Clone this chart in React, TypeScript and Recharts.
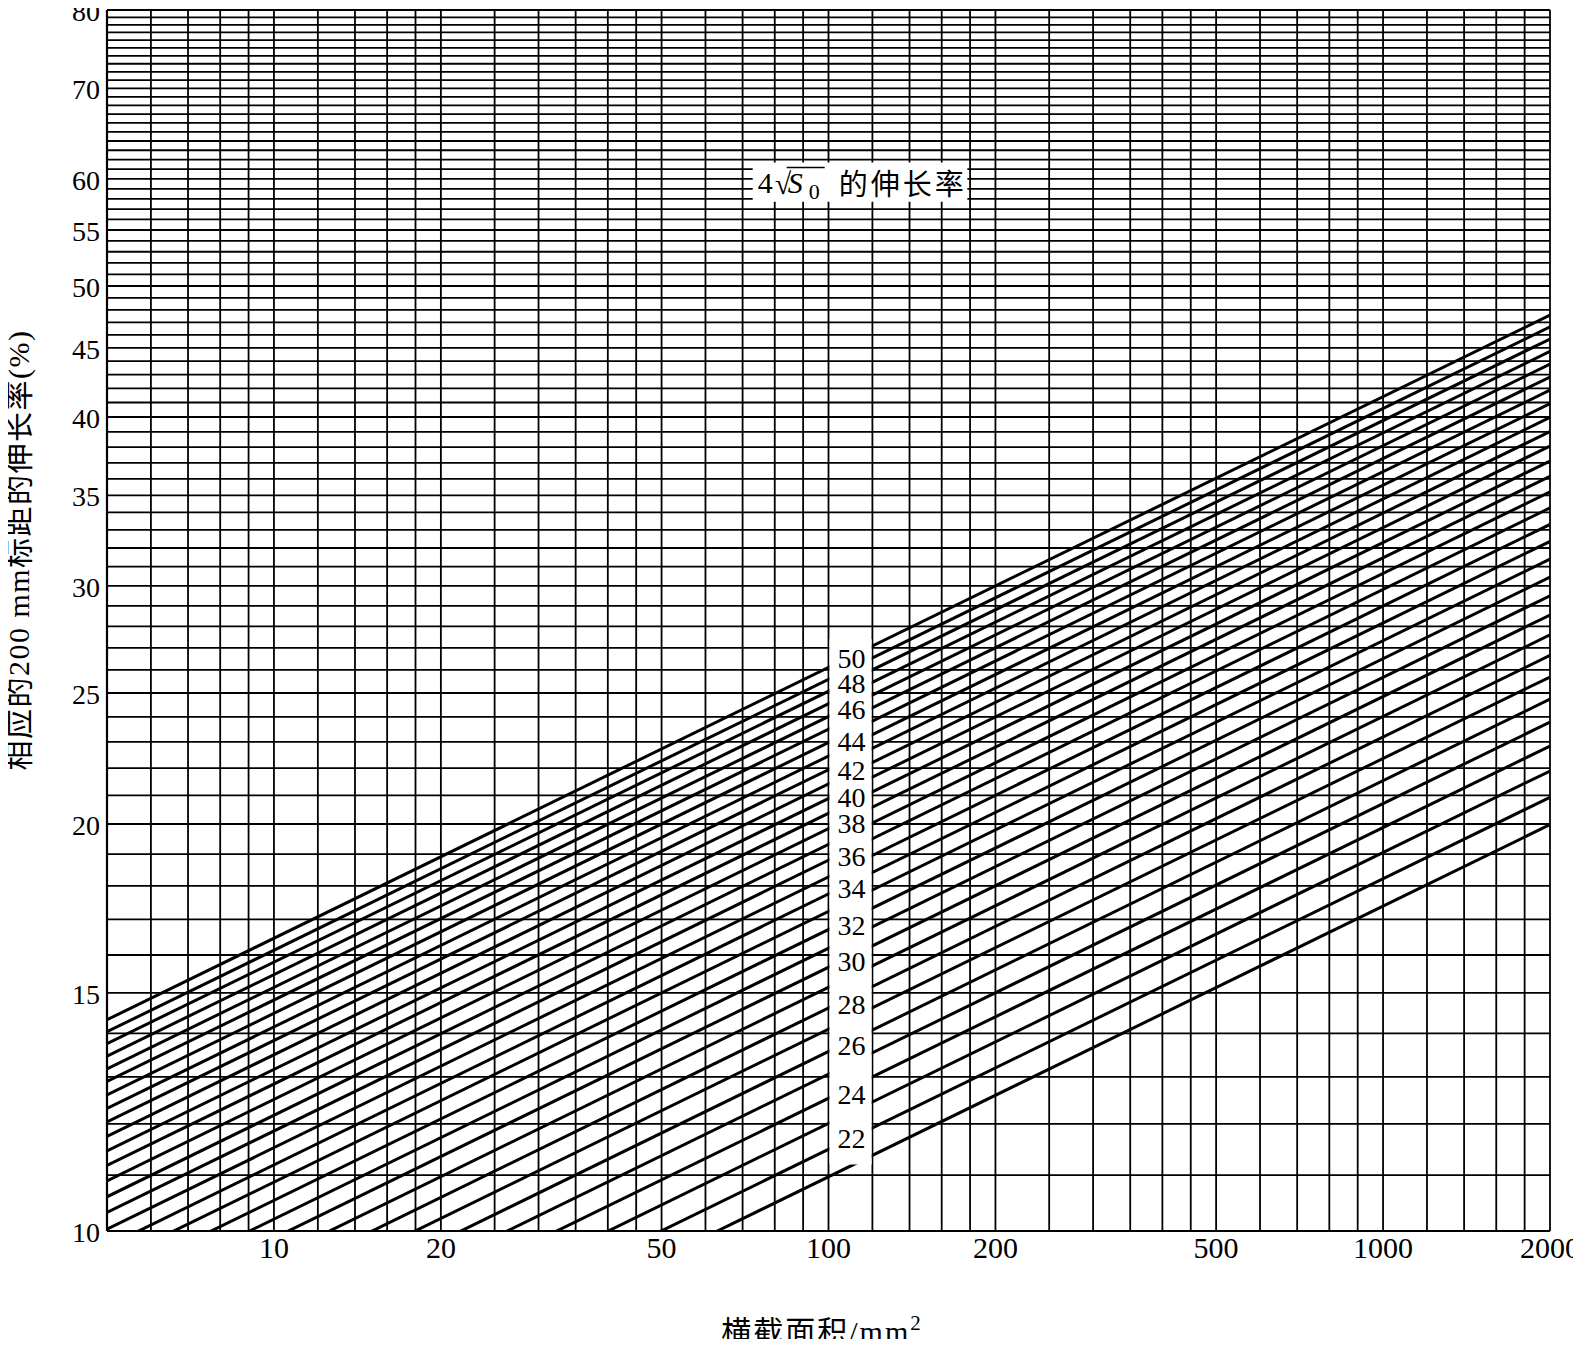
import React from 'react';
import {
  ComposedChart,
  Line,
  XAxis,
  YAxis,
  CartesianGrid,
  ReferenceArea,
  Scatter,
} from 'recharts';

// 4√S0 elongation (%) of each line
const elongation4 = [21, 22, 23, 24, 25, 26, 27, 28, 29, 30, 31, 32, 33, 34, 35, 36, 37, 38, 39, 40, 41, 42, 43, 44, 45, 46, 47, 48, 49, 50];
// cross-section area at the two ends of every line (mm²)
const areaStart = 5;
const areaEnd = 2000;
// elongation on 200 mm gauge read at area = 5 mm²
const valueAtStart = [6.02, 6.31, 6.59, 6.88, 7.17, 7.45, 7.74, 8.02, 8.31, 8.6, 8.88, 9.17, 9.46, 9.74, 10.03, 10.32, 10.6, 10.89, 11.18, 11.46, 11.75, 12.04, 12.32, 12.61, 12.9, 13.18, 13.47, 13.76, 14.04, 14.33];
// elongation on 200 mm gauge read at area = 2000 mm²
const valueAtEnd = [19.98, 20.93, 21.89, 22.84, 23.79, 24.74, 25.69, 26.65, 27.6, 28.55, 29.5, 30.45, 31.4, 32.36, 33.31, 34.26, 35.21, 36.16, 37.11, 38.07, 39.02, 39.97, 40.92, 41.87, 42.82, 43.77, 44.73, 45.68, 46.63, 47.58];

// in-chart labels of the lines (placed on the lines near 110 mm²)
const lineLabelTexts = ['50', '48', '46', '44', '42', '40', '38', '36', '34', '32', '30', '28', '26', '24', '22'];
const lineLabelValues = [26.5, 25.4, 24.3, 23.0, 21.9, 20.9, 20.0, 18.9, 17.9, 16.8, 15.8, 14.7, 13.7, 12.6, 11.7];
const lineLabelArea = 110;

const xTicks = [10, 20, 50, 100, 200, 500, 1000, 2000];
const yTicks = [10, 15, 20, 25, 30, 35, 40, 45, 50, 55, 60, 70, 80];
const xGrid = [5, 6, 7, 8, 9, 10, 12, 14, 16, 18, 20, 25, 30, 35, 40, 45, 50, 60, 70, 80, 90, 100, 120, 140, 160, 180, 200, 250, 300, 350, 400, 450, 500, 600, 700, 800, 900, 1000, 1200, 1400, 1600, 1800, 2000];
const yGrid = [10, 11, 12, 13, 14, 15, 16, 17, 18, 19, 20, 21, 22, 23, 24, 25, 26, 27, 28, 29, 30, 31, 32, 33, 34, 35, 36, 37, 38, 39, 40, 41, 42, 43, 44, 45, 46, 47, 48, 49, 50, 51, 52, 53, 54, 55, 56, 57, 58, 59, 60, 61, 62, 63, 64, 65, 66, 67, 68, 69, 70, 71, 72, 73, 74, 75, 76, 77, 78, 79, 80];

const yAxisTitle = '相应的200 mm标距的伸长率(%)';
const xAxisTitle = '横截面积/mm';
const boxTitleCn = '的伸长率';

const SERIF = "'Liberation Serif', 'Times New Roman', serif";
const MIXED = "'Liberation Serif', 'Noto Sans CJK SC', serif";
const CJK = "'Noto Sans CJK SC', sans-serif";

const series = elongation4.map((a, i) => ({
  key: a,
  data: [
    { x: areaStart, y: valueAtStart[i] },
    { x: areaEnd, y: valueAtEnd[i] },
  ],
}));

const labelPoints = lineLabelValues.map((v, i) => ({ x: lineLabelArea, y: v, text: lineLabelTexts[i] }));

const LineLabelShape = (props: any) => {
  const { cx, cy, payload } = props;
  return (
    <text x={cx} y={cy + 9} textAnchor="middle" fontSize={28} fontFamily={SERIF} fill="#000">
      {payload.text}
    </text>
  );
};

const XTick = (props: any) => {
  const { x, y, payload } = props;
  return (
    <text x={x} y={y + 27} textAnchor="middle" fontSize={30} fontFamily={SERIF} fill="#000">
      {payload.value}
    </text>
  );
};

const YTick = (props: any) => {
  const { x, y, payload } = props;
  return (
    <text x={x} y={y + 11} textAnchor="end" fontSize={28} fontFamily={SERIF} fill="#000">
      {payload.value}
    </text>
  );
};

const YTitle = () => (
  <text
    x={18}
    y={550}
    transform="rotate(-90 18 550)"
    textAnchor="middle"
    dominantBaseline="central"
    fontSize={30}
    letterSpacing={1.5}
    fontFamily={MIXED}
    fill="#000"
  >
    {yAxisTitle}
  </text>
);

const XTitle = () => (
  <text x={822} y={1342} textAnchor="middle" fontSize={30} letterSpacing={2} fontFamily={MIXED} fill="#000">
    {xAxisTitle}
    <tspan dy={-12} fontSize={21}>2</tspan>
  </text>
);

const BoxTitle = (props: any) => {
  const vb = props.viewBox || {};
  const x = vb.x ?? 753;
  const y = vb.y ?? 163;
  return (
    <g>
      <text x={x + 5} y={y + 30} fontSize={30} fontFamily={SERIF} fill="#000">4</text>
      <text x={x + 22} y={y + 31} fontSize={30} fontFamily={SERIF} fill="#000">√</text>
      <line x1={x + 34} x2={x + 72} y1={y + 5} y2={y + 5} stroke="#000" strokeWidth={1.6} />
      <text x={x + 35} y={y + 30} fontSize={30} fontStyle="italic" fontFamily={SERIF} fill="#000">S</text>
      <text x={x + 56} y={y + 36} fontSize={22} fontFamily={SERIF} fill="#000">0</text>
      <text x={x + 86} y={y + 32} fontSize={29} letterSpacing={3} fontFamily={CJK} fill="#000">{boxTitleCn}</text>
    </g>
  );
};

export default function App() {
  return (
    <div style={{ margin: '-8px', width: 1581, height: 1347, background: '#fff' }}>
      <ComposedChart
        width={1581}
        height={1347}
        margin={{ top: 10, right: 31, bottom: 0, left: 0 }}
      >
        <CartesianGrid
          stroke="#000"
          strokeWidth={1.8}
          horizontalValues={yGrid}
          verticalValues={xGrid}
          strokeDasharray=""
        />
        <XAxis
          dataKey="x"
          type="number"
          scale="log"
          domain={[areaStart, areaEnd]}
          allowDataOverflow
          ticks={xTicks}
          interval={0}
          tickLine={false}
          tickSize={0}
          tickMargin={0}
          height={116}
          axisLine={{ stroke: '#000', strokeWidth: 2.2 }}
          tick={XTick}
          label={XTitle}
        />
        <YAxis
          dataKey="y"
          type="number"
          scale="log"
          domain={[10, 80]}
          allowDataOverflow
          ticks={yTicks}
          interval={0}
          tickLine={false}
          tickSize={0}
          tickMargin={7}
          width={107}
          axisLine={{ stroke: '#000', strokeWidth: 2.2 }}
          tick={YTick}
          label={YTitle}
        />
        {series.map((s) => (
          <Line
            key={s.key}
            data={s.data}
            dataKey="y"
            type="linear"
            stroke="#000"
            strokeWidth={3}
            dot={false}
            activeDot={false}
            isAnimationActive={false}
          />
        ))}
        <ReferenceArea
          x1={100.4}
          x2={119.6}
          y1={11.2}
          y2={27.4}
          fill="#fff"
          fillOpacity={1}
          stroke="none"
          zIndex={450}
        />
        <ReferenceArea
          x1={73}
          x2={178}
          y1={57.7}
          y2={61.7}
          fill="#fff"
          fillOpacity={1}
          stroke="none"
          zIndex={450}
          label={BoxTitle}
        />
        <Scatter
          data={labelPoints}
          dataKey="y"
          shape={LineLabelShape}
          isAnimationActive={false}
        />
      </ComposedChart>
    </div>
  );
}
